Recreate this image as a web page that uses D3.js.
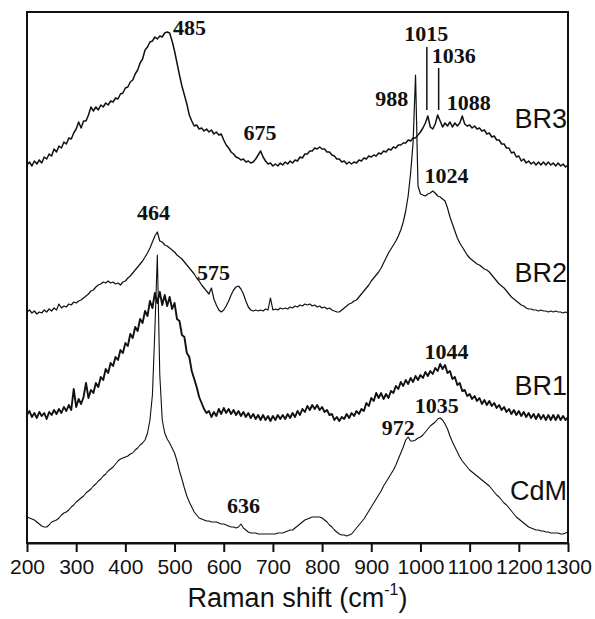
<!DOCTYPE html>
<html>
<head>
<meta charset="utf-8">
<script src="https://cdn.jsdelivr.net/npm/d3@7"></script>
<style>
body { margin: 0; background: #fff; }
</style>
</head>
<body>
<div class="canvas"></div>
<script>
// raman shift grid (cm-1), a reading every 5
const shifts = d3.range(200, 1301, 5);

const seriesNames = ['CdM', 'BR1', 'BR2', 'BR3'];
const offsets = [0, 120, 225, 370];

const cdm = [
  26,25,24,23,21,19,17,16,16,18,21,22,23,25,28,30,31,33,36,38,
  41,43,45,47,50,52,54,57,59,62,64,67,69,72,74,76,79,82,84,85,
  86,87,89,90,93,95,98,100,103,110,123,148,213,288,168,123,110,104,100,95,
  90,82,72,64,55,47,41,36,31,28,25,24,23,22,22,21,21,21,20,19,
  19,18,17,16,16,15,16,19,15,13,11,10,10,10,9,9,9,9,9,9,
  9,9,10,10,10,11,12,13,13,15,17,19,21,23,24,25,26,26,26,26,
  25,23,21,18,16,13,11,9,8,8,7,8,9,12,15,18,21,24,28,32,
  36,40,44,48,52,57,61,65,69,73,78,84,90,96,103,106,102,102,103,105,
  106,108,111,114,117,119,121,124,125,123,119,114,107,101,96,91,86,82,79,76,
  73,71,69,67,65,63,61,59,57,54,51,48,46,43,40,38,35,32,29,26,
  24,22,20,18,16,15,14,13,13,12,12,11,11,10,10,10,10,9,9,10,
  11
];

const br1 = [
  8,12,6,10,5,11,7,10,4,11,8,13,9,14,10,16,12,18,13,34,
  16,24,19,26,40,25,33,30,40,36,46,43,54,50,60,57,66,63,73,70,
  80,77,89,85,96,92,104,100,112,107,122,115,130,120,131,118,128,117,126,114,
  120,104,102,88,86,70,66,52,44,36,26,20,14,10,12,6,11,7,14,9,
  15,10,14,9,13,8,12,7,11,6,10,5,9,4,8,3,8,3,7,2,
  7,3,8,4,8,4,9,5,10,6,12,8,14,11,17,13,18,14,18,13,
  16,11,13,8,9,3,6,2,6,4,9,5,10,7,12,9,14,12,20,17,
  25,22,30,25,30,24,29,25,32,30,37,34,41,37,43,39,45,41,47,43,
  48,45,51,47,52,49,55,52,59,54,58,50,52,44,46,38,40,32,33,27,
  29,24,27,22,25,19,23,18,22,17,20,15,18,13,16,11,14,9,13,8,
  12,7,11,6,10,5,9,4,9,4,8,3,8,3,8,3,8,3,7,3,
  6
];

const br2 = [
  6,8,5,7,4,6,5,8,6,9,7,10,8,14,10,12,11,14,13,16,
  15,17,18,20,22,24,27,28,31,33,34,36,35,37,35,36,34,35,33,36,
  37,40,42,45,48,51,54,57,61,65,70,76,82,86,77,76,73,72,70,68,
  66,63,61,59,56,53,50,47,44,40,37,33,30,27,24,30,19,13,8,6,
  8,12,17,23,28,31,32,29,24,17,11,8,7,8,7,8,7,9,8,20,
  8,9,8,10,9,10,9,11,10,12,11,13,12,14,13,14,12,13,11,12,
  10,11,9,10,8,7,6,6,8,10,12,14,15,17,18,21,24,27,30,33,
  37,40,43,46,50,55,60,65,69,73,77,82,88,96,107,122,145,175,243,132,
  124,123,122,124,125,127,125,122,121,119,117,110,101,94,87,80,75,71,67,63,
  60,58,56,54,53,51,49,48,46,43,40,37,34,32,30,27,24,21,19,17,
  15,13,12,10,9,9,8,8,7,8,7,7,6,7,6,7,6,6,5,6,
  5
];

const br3 = [
  8,11,7,12,9,13,10,16,14,19,17,24,21,27,25,31,29,35,34,40,
  44,51,45,52,52,58,66,62,66,63,68,66,70,68,72,71,75,74,79,80,
  85,86,91,93,99,103,110,114,123,126,131,132,136,134,137,136,140,141,140,132,
  122,110,98,87,78,69,58,52,47,48,44,45,42,44,41,43,39,41,38,39,
  33,28,25,21,19,16,15,13,14,11,12,10,11,14,18,22,16,12,9,10,
  7,9,7,10,8,11,9,12,10,13,12,16,15,19,19,22,22,25,24,26,
  24,24,21,21,18,17,14,14,11,12,9,11,9,11,10,13,12,15,14,17,
  16,18,17,20,19,22,21,24,23,26,25,28,28,30,30,33,32,35,35,38,
  41,45,50,57,46,44,49,58,52,46,50,47,51,46,50,47,50,57,49,47,
  48,45,47,44,45,42,43,39,40,36,37,33,33,29,29,25,25,20,21,16,
  17,12,14,10,12,9,11,8,11,8,11,8,11,8,10,7,10,7,9,6,
  8
];

const xTicks = [200, 300, 400, 500, 600, 700, 800, 900, 1000, 1100, 1200, 1300];

// peak annotations: where the number sits, in axis units
const peakLabels = [
  {text: '485', shift: 497, level: 508, anchor: 'start'},
  {text: '675', shift: 674, level: 403, anchor: 'middle'},
  {text: '988', shift: 975, level: 437, anchor: 'end'},
  {text: '1015', shift: 1012, level: 502, anchor: 'middle'},
  {text: '1036', shift: 1023, level: 480, anchor: 'start'},
  {text: '1088', shift: 1098, level: 433, anchor: 'middle'},
  {text: '464', shift: 457, level: 323, anchor: 'middle'},
  {text: '575', shift: 579, level: 263, anchor: 'middle'},
  {text: '1024', shift: 1053, level: 360, anchor: 'middle'},
  {text: '1044', shift: 1053, level: 184, anchor: 'middle'},
  {text: '972', shift: 955, level: 108, anchor: 'middle'},
  {text: '1035', shift: 1033, level: 130, anchor: 'middle'},
  {text: '636', shift: 640, level: 30, anchor: 'middle'}
];
const leaders = [
  {shift: 1013, from: 496, to: 433},
  {shift: 1037, from: 475, to: 433}
];
const nameLevels = [43, 148, 261, 415];

const spectra = [cdm, br1, br2, br3];
const strokeWidths = [1.1, 1.9, 1.2, 1.5];

const svg = d3.select('.canvas')
    .append('svg')
    .attr('width', 595)
    .attr('height', 619);

const margin = {top: 12, right: 27, bottom: 76, left: 27};
const graphWidth = 595 - margin.left - margin.right;
const graphHeight = 619 - margin.top - margin.bottom;

const graph = svg.append('g')
    .attr('transform', `translate(${margin.left}, ${margin.top})`);

const x = d3.scaleLinear()
    .domain([200, 1300])
    .range([0, graphWidth]);

const y = d3.scaleLinear()
    .domain([0, 531])
    .range([graphHeight, 0]);

// traces
spectra.forEach((vals, k) => {
    const line = d3.line()
        .x((d, i) => x(shifts[i]))
        .y(d => y(d + offsets[k]));
    graph.append('path')
        .datum(vals)
        .attr('d', line)
        .attr('fill', 'none')
        .attr('stroke', '#111')
        .attr('stroke-width', strokeWidths[k])
        .attr('stroke-linejoin', 'round');
});

// frame
graph.append('rect')
    .attr('width', graphWidth)
    .attr('height', graphHeight)
    .attr('fill', 'none')
    .attr('stroke', '#111')
    .attr('stroke-width', 2);

const xAxisGroup = graph.append('g')
    .attr('transform', `translate(0, ${graphHeight})`);

const xAxis = d3.axisBottom(x)
    .tickValues(xTicks)
    .tickSize(9)
    .tickSizeOuter(0)
    .tickPadding(7)
    .tickFormat(d => d);

xAxisGroup.call(xAxis);
xAxisGroup.select('.domain')
    .attr('stroke', '#111')
    .attr('stroke-width', 2);
xAxisGroup.selectAll('line')
    .attr('stroke', '#111')
    .attr('stroke-width', 2);
xAxisGroup.selectAll('text')
    .attr('fill', '#111')
    .style('font-family', '"Liberation Sans", Arial, sans-serif')
    .style('font-size', '21px');

// axis title
const title = svg.append('text')
    .attr('x', margin.left + graphWidth / 2)
    .attr('y', 607)
    .attr('text-anchor', 'middle')
    .attr('fill', '#111')
    .style('font-family', '"Liberation Sans", Arial, sans-serif')
    .style('font-size', '27px');
title.append('tspan').text('Raman shift (cm');
title.append('tspan').attr('dy', -12).style('font-size', '16px').text('-1');
title.append('tspan').attr('dy', 12).text(')');

// series names
graph.selectAll('.name')
    .data(seriesNames)
    .enter()
    .append('text')
        .attr('class', 'name')
        .attr('x', x(1298))
        .attr('y', (d, i) => y(nameLevels[i]))
        .attr('text-anchor', 'end')
        .attr('fill', '#111')
        .style('font-family', '"Liberation Sans", Arial, sans-serif')
        .style('font-size', '27px')
        .text(d => d);

// peak numbers
graph.selectAll('.peak')
    .data(peakLabels)
    .enter()
    .append('text')
        .attr('class', 'peak')
        .attr('x', d => x(d.shift))
        .attr('y', d => y(d.level))
        .attr('text-anchor', d => d.anchor)
        .attr('fill', '#111')
        .style('font-family', '"Liberation Serif", "Times New Roman", serif')
        .style('font-weight', 'bold')
        .style('font-size', '22px')
        .text(d => d.text);

graph.selectAll('.leader')
    .data(leaders)
    .enter()
    .append('line')
        .attr('class', 'leader')
        .attr('x1', d => x(d.shift))
        .attr('x2', d => x(d.shift))
        .attr('y1', d => y(d.from))
        .attr('y2', d => y(d.to))
        .attr('stroke', '#111')
        .attr('stroke-width', 1.5);
</script>
</body>
</html>
